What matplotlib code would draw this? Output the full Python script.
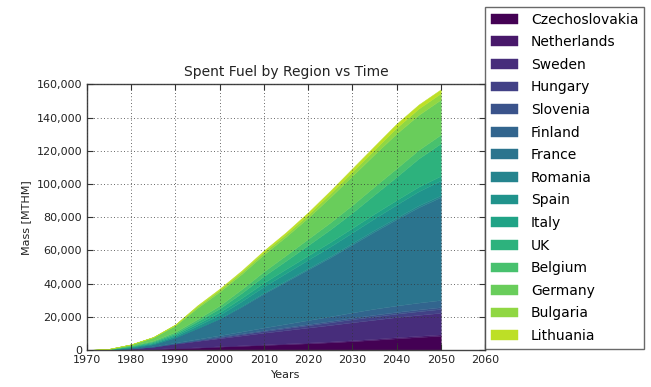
import numpy as np
import matplotlib
matplotlib.use("Agg")
import matplotlib.pyplot as plt
from matplotlib.ticker import FuncFormatter

# Cumulative spent fuel per region, thousands of MTHM
years = [1970, 1975, 1980, 1985, 1990, 1995, 2000, 2005, 2010,
         2015, 2020, 2025, 2030, 2035, 2040, 2045, 2050]

regions = ["Czechoslovakia", "Netherlands", "Sweden", "Hungary", "Slovenia",
           "Finland", "France", "Romania", "Spain", "Italy", "UK", "Belgium",
           "Germany", "Bulgaria", "Lithuania"]

czechoslovakia = [0, 0.05, 0.3, 0.6, 1.0, 1.4, 2.0, 2.5, 3.0, 3.5, 4.0, 4.6, 5.3, 6.1, 7.0, 7.8, 8.6]
netherlands = [0, 0.02, 0.1, 0.15, 0.2, 0.25, 0.3, 0.35, 0.4, 0.45, 0.5, 0.55, 0.6, 0.65, 0.7, 0.75, 0.8]
sweden = [0, 0.05, 0.5, 1.2, 2.6, 3.8, 4.8, 5.9, 7.0, 8.0, 9.0, 9.9, 10.8, 11.5, 12.1, 12.6, 13.0]
hungary = [0, 0, 0, 0.05, 0.2, 0.4, 0.6, 0.8, 1.0, 1.2, 1.4, 1.6, 1.8, 2.0, 2.1, 2.2, 2.3]
slovenia = [0, 0, 0, 0.05, 0.1, 0.2, 0.3, 0.4, 0.5, 0.6, 0.7, 0.8, 0.9, 1.0, 1.0, 1.1, 1.1]
finland = [0, 0, 0.1, 0.2, 0.3, 0.6, 0.9, 1.2, 1.6, 2.0, 2.4, 2.8, 3.2, 3.6, 3.9, 4.1, 4.3]
france = [0, 0.1, 0.5, 1.2, 3.2, 6.5, 10.0, 15.0, 20.5, 25.5, 30.5, 35.5, 41.0, 46.5, 52.0, 57.5, 62.0]
romania = [0, 0, 0, 0, 0, 0.05, 0.15, 0.3, 0.5, 0.6, 0.7, 0.8, 0.9, 1.0, 1.0, 1.1, 1.1]
spain = [0, 0.05, 0.2, 0.5, 0.9, 1.5, 2.2, 3.0, 3.8, 4.5, 5.2, 5.8, 6.3, 7.0, 7.8, 8.5, 9.0]
italy = [0, 0.1, 0.3, 0.6, 0.8, 1.2, 1.6, 2.0, 2.3, 2.5, 2.6, 2.7, 2.8, 2.8, 2.8, 2.8, 2.8]
uk = [0, 0.1, 0.4, 0.6, 0.8, 1.5, 2.2, 3.0, 4.0, 5.0, 6.2, 7.6, 9.2, 11.5, 14.0, 17.0, 19.5]
belgium = [0, 0.05, 0.2, 0.5, 0.9, 1.3, 1.8, 2.3, 2.8, 3.3, 3.8, 4.2, 4.6, 4.9, 5.1, 5.2, 5.3]
germany = [0, 0.2, 0.8, 2.0, 3.8, 6.8, 8.3, 9.2, 10.3, 11.2, 12.8, 15.3, 17.6, 19.4, 21.0, 21.1, 21.1]
bulgaria = [0, 0, 0.05, 0.2, 0.5, 1.0, 1.2, 1.3, 1.4, 1.5, 1.8, 2.2, 2.6, 2.9, 3.5, 3.8, 3.8]
lithuania = [0, 0, 0, 0.05, 0.2, 0.5, 0.65, 0.75, 0.9, 1.15, 1.4, 1.65, 1.9, 2.15, 2.4, 2.4, 2.4]

series = [czechoslovakia, netherlands, sweden, hungary, slovenia, finland,
          france, romania, spain, italy, uk, belgium, germany, bulgaria, lithuania]
masses = np.array(series) * 1000.0

plt.rcParams["font.family"] = ["DejaVu Sans"]

fig = plt.figure(figsize=(6.51, 3.87), dpi=100)
ax = fig.add_axes([0.1336, 0.0956, 0.745 - 0.1336, 0.7817 - 0.0956])

colors = plt.cm.viridis(np.linspace(0, 0.9, len(regions)))
polys = ax.stackplot(years, masses, colors=colors, labels=regions)
for p, c in zip(polys, colors):
    p.set_edgecolor(c)
    p.set_linewidth(0.3)

ax.set_xlim(1970, 2060)
ax.set_ylim(0, 160000)
ax.set_xticks(range(1970, 2061, 10))
ax.set_yticks(range(0, 160001, 20000))
ax.yaxis.set_major_formatter(FuncFormatter(lambda v, p: f"{int(v):,}"))
ax.tick_params(direction="in", top=True, right=True, labelsize=8, length=4,
               color="#333333", labelcolor="#222222")
ax.grid(True, linestyle=(0, (1, 3)), color="#333333", linewidth=0.6)
ax.set_axisbelow(False)
for s in ax.spines.values():
    s.set_linewidth(1.0)
    s.set_color("#444444")

ax.set_title("Spent Fuel by Region vs Time", fontsize=10, color="#222222")
ax.set_xlabel("Years", fontsize=8, color="#222222")
ax.set_ylabel("Mass [MTHM]", fontsize=8, color="#222222")

leg = fig.legend(polys, regions, loc="upper left", bbox_to_anchor=(0.745, 0.982),
                 bbox_transform=fig.transFigure, borderaxespad=0, fontsize=10,
                 frameon=True, fancybox=False, edgecolor="#444444",
                 labelspacing=0.62, handlelength=2.0, handleheight=0.7,
                 handletextpad=0.9, borderpad=0.4)
leg.get_frame().set_linewidth(1.0)

fig.savefig("out.png", dpi=100, facecolor="white")
